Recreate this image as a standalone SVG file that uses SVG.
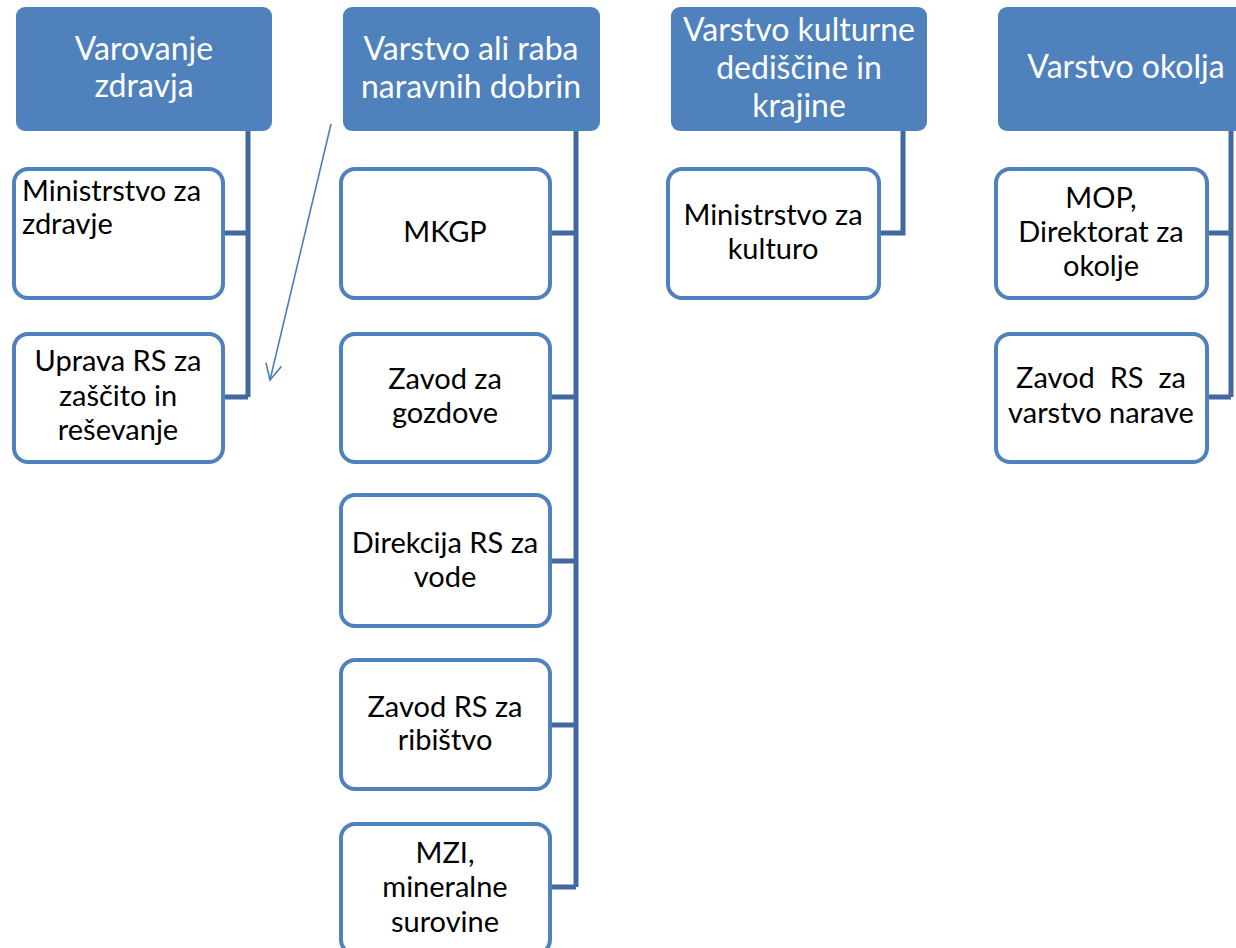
<svg xmlns="http://www.w3.org/2000/svg" width="1236" height="948" viewBox="0 0 1236 948">
<style>
.hdr{fill:#4F81BD;}
.box{fill:#FFFFFF;stroke:#4F81BD;stroke-width:4;}
.ht{font-family:Lato,"Open Sans","Liberation Sans",sans-serif;font-size:32px;fill:#FFFFFF;text-anchor:middle;}
.ct{font-family:Lato,"Open Sans","Liberation Sans",sans-serif;font-size:29px;fill:#000000;text-anchor:middle;white-space:pre;}
.conn{fill:none;stroke:#41699D;stroke-width:5;stroke-linejoin:miter;}
.arr{fill:none;stroke:#4A7EBB;stroke-width:1.6;}
</style>
<defs>
<marker id="ah" viewBox="0 0 20 20" refX="18" refY="10" markerWidth="20" markerHeight="20" markerUnits="userSpaceOnUse" orient="auto">
<path d="M2,2 L18,10 L2,18" fill="none" stroke="#4A7EBB" stroke-width="1.6"/>
</marker>
</defs>
<rect width="1236" height="948" fill="#FFFFFF"/>
<g id="connectors">
<path class="conn" d="M248,131 V397 M223,233 H248 M223,397 H248"/>
<path class="conn" d="M576,131 V887 M550,233 H576 M550,397 H576 M550,561 H576 M550,725 H576 M550,887 H576"/>
<path class="conn" d="M903,131 V233 H879"/>
<path class="conn" d="M1231,131 V397 M1207,233 H1231 M1207,397 H1231"/>
<line class="arr" x1="331" y1="124" x2="270" y2="380" marker-end="url(#ah)"/>
</g>
<g id="h1"><rect class="hdr" x="16" y="7" width="256" height="124" rx="9"/>
<text class="ht" x="144" y="60">Varovanje</text><text class="ht" x="144" y="97">zdravja</text></g>
<g id="h2"><rect class="hdr" x="343" y="7" width="257" height="124" rx="9"/>
<text class="ht" x="471" y="60">Varstvo ali raba</text><text class="ht" x="471" y="98">naravnih dobrin</text></g>
<g id="h3"><rect class="hdr" x="671" y="7" width="256" height="124" rx="9"/>
<text class="ht" x="799" y="41">Varstvo kulturne</text><text class="ht" x="799" y="79">dediščine in</text><text class="ht" x="799" y="117">krajine</text></g>
<g id="h4"><rect class="hdr" x="998" y="7" width="256" height="124" rx="9"/>
<text class="ht" x="1126" y="78">Varstvo okolja</text></g>
<g id="c1a"><rect class="box" x="14" y="169" width="209" height="129" rx="14"/>
<text class="ct" x="22" y="201" style="text-anchor:start">Ministrstvo za</text><text class="ct" x="22" y="234" style="text-anchor:start">zdravje</text></g>
<g id="c1b"><rect class="box" x="14" y="334" width="209" height="128" rx="14"/>
<text class="ct" x="118" y="371">Uprava RS za</text><text class="ct" x="118" y="406">zaščito in</text><text class="ct" x="118" y="440">reševanje</text></g>
<g id="c2a"><rect class="box" x="341" y="169" width="209" height="129" rx="14"/>
<text class="ct" x="445" y="242">MKGP</text></g>
<g id="c2b"><rect class="box" x="341" y="334" width="209" height="128" rx="14"/>
<text class="ct" x="445" y="389">Zavod za</text><text class="ct" x="445" y="423">gozdove</text></g>
<g id="c2c"><rect class="box" x="341" y="495" width="209" height="131" rx="14"/>
<text class="ct" x="445" y="553">Direkcija RS za</text><text class="ct" x="445" y="587">vode</text></g>
<g id="c2d"><rect class="box" x="341" y="660" width="209" height="129" rx="14"/>
<text class="ct" x="445" y="717">Zavod RS za</text><text class="ct" x="445" y="750">ribištvo</text></g>
<g id="c2e"><rect class="box" x="341" y="824" width="209" height="130" rx="14"/>
<text class="ct" x="445" y="863">MZI,</text><text class="ct" x="445" y="897">mineralne</text><text class="ct" x="445" y="932">surovine</text></g>
<g id="c3a"><rect class="box" x="668" y="169" width="211" height="129" rx="14"/>
<text class="ct" x="773" y="225">Ministrstvo za</text><text class="ct" x="773" y="259">kulturo</text></g>
<g id="c4a"><rect class="box" x="996" y="169" width="211" height="129" rx="14"/>
<text class="ct" x="1101" y="208">MOP,</text><text class="ct" x="1101" y="242">Direktorat za</text><text class="ct" x="1101" y="276">okolje</text></g>
<g id="c4b"><rect class="box" x="996" y="334" width="211" height="128" rx="14"/>
<text class="ct" x="1101" y="388">Zavod  RS  za</text><text class="ct" x="1101" y="423">varstvo narave</text></g>
</svg>
